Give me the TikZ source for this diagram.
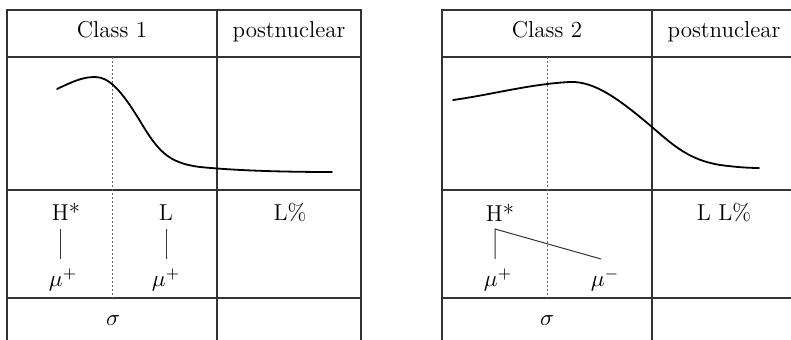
\documentclass[tikz,border=0pt]{standalone}
\usepackage{fix-cm}
\usepackage{tikz}
\usetikzlibrary{positioning,calc}

\begin{document}
\begin{tikzpicture}[
    x=0.5pt, y=-0.5pt,
    grid/.style={draw=black!80, line width=0.55pt},
    guide/.style={draw=black!60, line width=0.5pt, dash pattern=on 1pt off 1pt},
    contour/.style={draw=black, line width=0.9pt, line cap=round},
    tone/.style={font=\fontsize{11.5}{13.8}\selectfont, inner sep=0pt, anchor=base},
    assoc/.style={draw=black!80, line width=0.5pt},
  ]
  \useasboundingbox (0,0) rectangle (791,340);

  % Class 1 grid
  \draw[grid] (7,340) -- (7,10) -- (361,10) -- (361,340);
  \draw[grid] (217,10) -- (217,340);
  \draw[grid] (7,57) -- (361,57);
  \draw[grid] (7,190) -- (361,190);
  \draw[grid] (7,298) -- (361,298);
  \draw[guide] (112,57) -- (112,298);

  % Class 2 grid
  \draw[grid] (442,340) -- (442,10) -- (796,10) -- (796,340);
  \draw[grid] (652,10) -- (652,340);
  \draw[grid] (442,57) -- (796,57);
  \draw[grid] (442,190) -- (796,190);
  \draw[grid] (442,298) -- (796,298);
  \draw[guide] (547,57) -- (547,298);

  % Headers
  \node[tone] (classA) at (112,38) {Class 1};
  \node[tone] (postA) at (289,38) {postnuclear};
  \node[tone] (classB) at (547,38) {Class 2};
  \node[tone] (postB) at (724,38) {postnuclear};

  % Contours
  \draw[contour] (57,89) .. controls (72,82) and (82,77) .. (95,77)
    .. controls (108,77) and (120,88) .. (140,121)
    .. controls (158,151) and (168,163) .. (200,167)
    .. controls (240,171) and (290,172) .. (332,172);
  \draw[contour] (453,100) .. controls (490,95) and (530,84) .. (570,82)
    .. controls (595,81) and (620,100) .. (652,127)
    .. controls (675,147) and (690,160) .. (720,165)
    .. controls (735,167) and (748,168) .. (759,168);

  % Class 1 tones
  \node[tone] (hstarA) at (66,221) {H*};
  \node[tone] (lowA) at (166,221) {L};
  \node[tone] (bndA) at (290,221) {L\%};
  \node[tone] (muA) at (63,287) {$\mu^{+}$};
  \node[tone] (muB) at (166,287) {$\mu^{+}$};
  \node[tone] (sigA) at (113,326) {$\sigma$};
  \coordinate (hA) at (60,229);
  \coordinate (mA) at (60,259);
  \coordinate (lA) at (166,229);
  \coordinate (lB) at (166,259);
  \draw[assoc] (hA) -- (mA);
  \draw[assoc] (lA) -- (lB);

  % Class 2 tones
  \node[tone] (hstarB) at (500,222) {H*};
  \node[tone] (bndB) at (724,221) {L L\%};
  \node[tone] (muC) at (498,287) {$\mu^{+}$};
  \node[tone] (muD) at (605,287) {$\mu^{-}$};
  \node[tone] (sigB) at (547,326) {$\sigma$};
  \coordinate (hB) at (495,229);
  \coordinate (mC) at (495,259);
  \coordinate (mD) at (601,259);
  \draw[assoc] (mC) -- (hB) -- (mD);
\end{tikzpicture}
\end{document}
